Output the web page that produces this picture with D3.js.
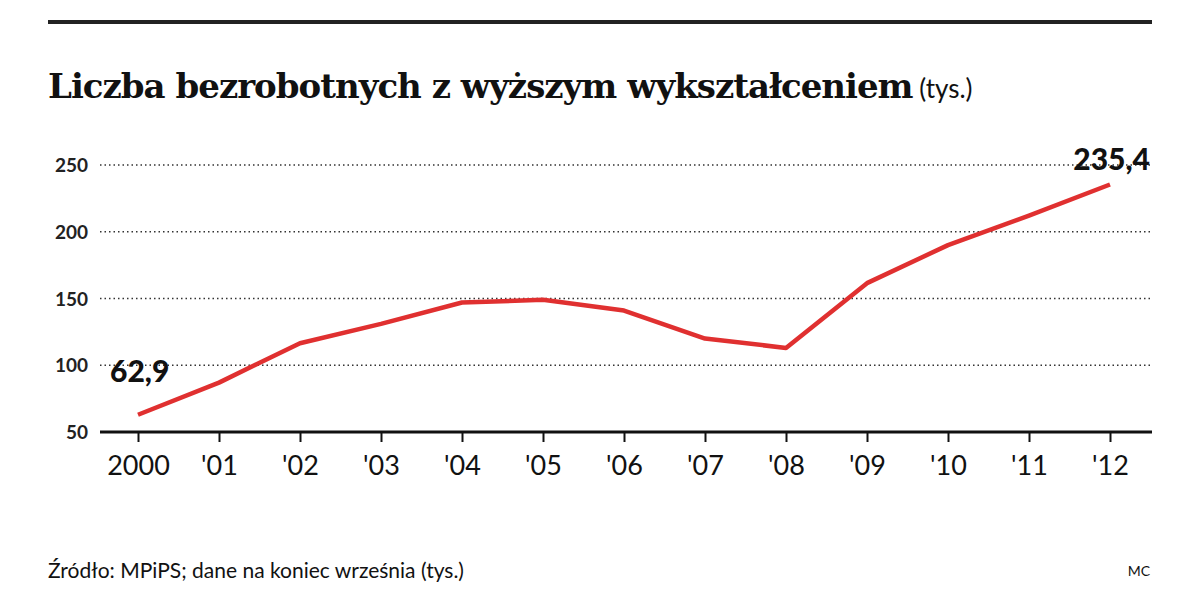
<!DOCTYPE html><html><head><meta charset="utf-8"><script src="https://cdn.jsdelivr.net/npm/d3@7"></script>
<style>body{margin:0;background:#fff}</style></head><body><svg id="c" width="1200" height="589"></svg><script>
const years=["2000","'01","'02","'03","'04","'05","'06","'07","'08","'09","'10","'11","'12"];
const values=[62.9,87,116.5,131,147,149,141,120,113,161.5,190,212,235.4];
const yTicks=[50,100,150,200,250];
const svg=d3.select("#c");
const x=d3.scalePoint().domain(years).range([138,1110]);
const y=d3.scaleLinear().domain([50,250]).range([432,165]);
const f="Lato, 'Open Sans', sans-serif";
svg.append("rect").attr("x",48).attr("y",20).attr("width",1104).attr("height",4).attr("fill","#222");
const t=svg.append("text").attr("x",48).attr("y",98).attr("font-family","'DejaVu Serif',serif").attr("font-weight","bold").attr("font-size",34).attr("fill","#111").attr("letter-spacing",-1);
t.append("tspan").text("Liczba bezrobotnych z wyższym wykształceniem");
t.append("tspan").attr("font-weight","normal").attr("font-size",26).attr("font-family",f).attr("letter-spacing",0).text(" (tys.)");
yTicks.forEach(v=>{
 if(v>50) svg.append("line").attr("x1",100).attr("x2",1152).attr("y1",y(v)).attr("y2",y(v)).attr("stroke","#333").attr("stroke-width",1.5).attr("stroke-dasharray","1.5,3");
 svg.append("text").attr("x",88).attr("y",y(v)+7).attr("text-anchor","end").attr("font-family",f).attr("font-weight","bold").attr("font-size",19).attr("fill","#222").text(v);
});
const ax=svg.append("g").attr("transform","translate(0,432)").call(d3.axisBottom(x).tickSize(10).tickPadding(14));
ax.select(".domain").attr("d","M100,0H1152").attr("stroke","#111").attr("stroke-width",3);
ax.selectAll(".tick line").attr("stroke","#111").attr("stroke-width",2);
ax.selectAll("text").attr("font-family",f).attr("font-size",27).attr("fill","#111");
svg.append("path").datum(values).attr("fill","none").attr("stroke","#e03030").attr("stroke-width",4.5).attr("stroke-linejoin","round")
 .attr("d",d3.line().x((d,i)=>x(years[i])).y(d=>y(d)));
svg.append("text").attr("x",110).attr("y",382).attr("font-family",f).attr("font-weight","900").attr("font-size",30).attr("fill","#111").text("62,9");
svg.append("text").attr("x",1150).attr("y",170).attr("text-anchor","end").attr("font-family",f).attr("font-weight","900").attr("font-size",30).attr("fill","#111").text("235,4");
svg.append("text").attr("x",48).attr("y",578).attr("font-family",f).attr("font-size",21).attr("fill","#111").text("Źródło: MPiPS; dane na koniec września (tys.)");
svg.append("text").attr("x",1150).attr("y",576).attr("text-anchor","end").attr("font-family",f).attr("font-size",14).attr("fill","#111").text("MC");
</script></body></html>
